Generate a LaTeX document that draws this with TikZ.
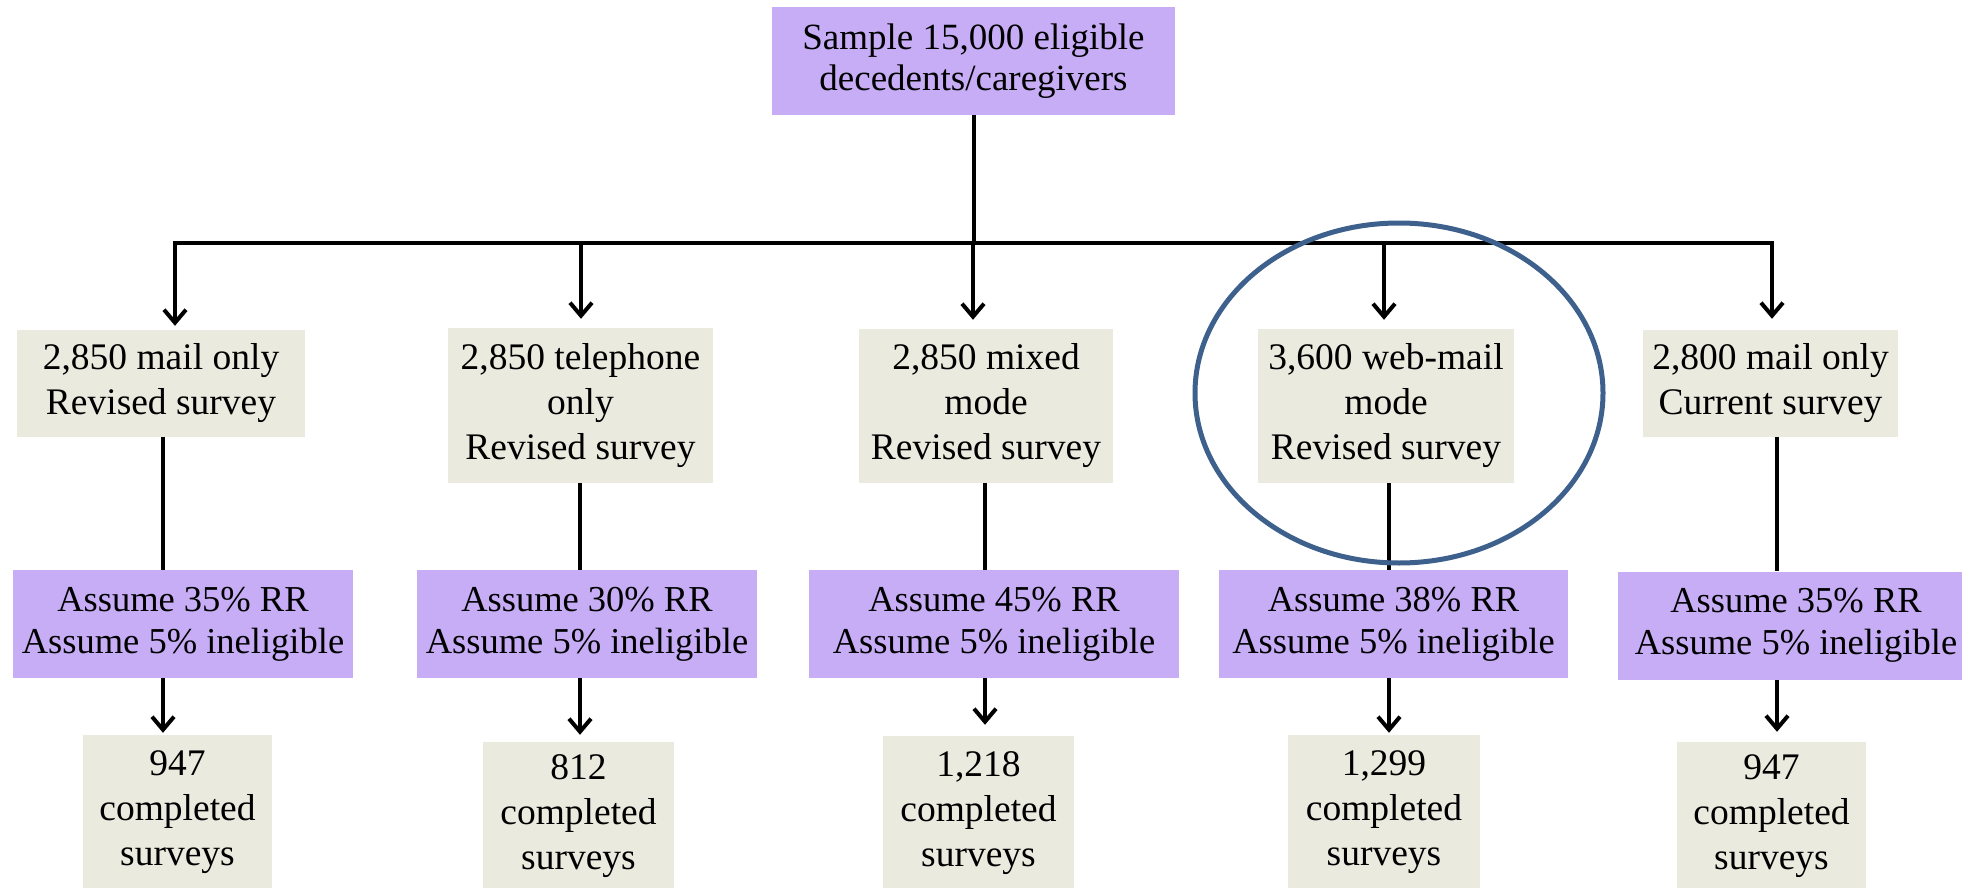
\documentclass[tikz,border=0pt]{standalone}
\usepackage{fontspec}
\setmainfont{Liberation Serif}
\usetikzlibrary{arrows.meta,shapes.geometric}
\definecolor{lilac}{RGB}{199,172,246}
\definecolor{beige}{RGB}{234,234,223}
\definecolor{ringblue}{RGB}{62,96,140}
\begin{document}
\begin{tikzpicture}[x=1pt,y=-1pt,
  box/.style={rectangle, inner sep=0pt, align=center, text=black},
  beigebox/.style={box, fill=beige, font=\fontsize{37.5}{45}\selectfont},
  lilacbox/.style={box, fill=lilac, font=\fontsize{36.5}{42}\selectfont},
  conn/.style={line width=4pt, draw=black},
  arr/.style={conn, -{Straight Barb[length=13pt,width=22pt]}},
]
\useasboundingbox (0,0) rectangle (1962,888);
\clip (0,0) rectangle (1962,888);

% top
\node[lilacbox, font=\fontsize{37}{41}\selectfont, minimum width=403pt, minimum height=108pt] (top) at (973.5,61) {Sample 15,000 eligible\\decedents/caregivers};

% second row
\node[beigebox, minimum width=288pt, minimum height=107pt] (b1) at (161,383.5) {2,850 mail only\\Revised survey};
\node[beigebox, minimum width=265pt, minimum height=155pt] (b2) at (580.5,405.5) {2,850 telephone\\only\\Revised survey};
\node[beigebox, minimum width=254pt, minimum height=154pt] (b3) at (986,406) {2,850 mixed\\mode\\Revised survey};
\node[beigebox, minimum width=256pt, minimum height=154pt] (b4) at (1386,406) {3,600 web-mail\\mode\\Revised survey};
\node[beigebox, minimum width=255pt, minimum height=107pt] (b5) at (1770.5,383.5) {2,800 mail only\\Current survey};

% purple row
\node[lilacbox, minimum width=340pt, minimum height=108pt] (p1) at (183,624) {Assume 35\% RR\\Assume 5\% ineligible};
\node[lilacbox, minimum width=340pt, minimum height=108pt] (p2) at (587,624) {Assume 30\% RR\\Assume 5\% ineligible};
\node[lilacbox, minimum width=370pt, minimum height=108pt] (p3) at (994,624) {Assume 45\% RR\\Assume 5\% ineligible};
\node[lilacbox, minimum width=349pt, minimum height=108pt] (p4) at (1393.5,624) {Assume 38\% RR\\Assume 5\% ineligible};
\node[lilacbox, minimum width=356pt, minimum height=108pt] (p5) at (1796,625.5) {Assume 35\% RR\\Assume 5\% ineligible};

% bottom row
\node[beigebox, minimum width=189pt, minimum height=155pt] (q1) at (177.5,812.5) {947\\completed\\surveys};
\node[beigebox, minimum width=191pt, minimum height=148pt] (q2) at (578.5,816) {812\\completed\\surveys};
\node[beigebox, minimum width=191pt, minimum height=154pt] (q3) at (978.5,813) {1,218\\completed\\surveys};
\node[beigebox, minimum width=192pt, minimum height=155pt] (q4) at (1384,812.5) {1,299\\completed\\surveys};
\node[beigebox, minimum width=189pt, minimum height=148pt] (q5) at (1771.5,816) {947\\completed\\surveys};

% branch coordinates
\coordinate (t1) at (175,243);
\coordinate (t2) at (581,243);
\coordinate (t3) at (973,243);
\coordinate (t4) at (1384,243);
\coordinate (t5) at (1772,243);
\coordinate (m1) at (163,0);
\coordinate (m2) at (580,0);
\coordinate (m3) at (985,0);
\coordinate (m4) at (1389,0);
\coordinate (m5) at (1777,0);

% trunk and bar
\draw[conn] (top.south) -- (top.south |- t1);
\draw[conn] ([xshift=-2pt]t1) -- ([xshift=2pt]t5);

% arrows to second row
\draw[arr, shorten >=4pt] (t1) -- (t1 |- b1.north);
\draw[arr, shorten >=9pt] (t2) -- (t2 |- b2.north);
\draw[arr, shorten >=9pt] (t3) -- (t3 |- b3.north);
\draw[arr, shorten >=9pt] (t4) -- (t4 |- b4.north);
\draw[arr, shorten >=11pt] (t5) -- (t5 |- b5.north);

% second row to purple row
\draw[conn] (m1 |- b1.south) -- (m1 |- p1.north);
\draw[conn] (m2 |- b2.south) -- (m2 |- p2.north);
\draw[conn] (m3 |- b3.south) -- (m3 |- p3.north);
\draw[conn] (m4 |- b4.south) -- (m4 |- p4.north);
\draw[conn] (m5 |- b5.south) -- (m5 |- p5.north);

% purple row to results
\draw[arr, shorten >=2pt] (m1 |- p1.south) -- (m1 |- q1.north);
\draw[arr, shorten >=7pt] (m2 |- p2.south) -- (m2 |- q2.north);
\draw[arr, shorten >=11pt] (m3 |- p3.south) -- (m3 |- q3.north);
\draw[arr, shorten >=2pt] (m4 |- p4.south) -- (m4 |- q4.north);
\draw[arr, shorten >=10pt] (m5 |- p5.south) -- (m5 |- q5.north);

% highlight ring
\node[ellipse, draw=ringblue, line width=5pt, inner sep=0pt, minimum width=408pt, minimum height=340pt] (ring) at (1399,393) {};
\end{tikzpicture}
\end{document}
